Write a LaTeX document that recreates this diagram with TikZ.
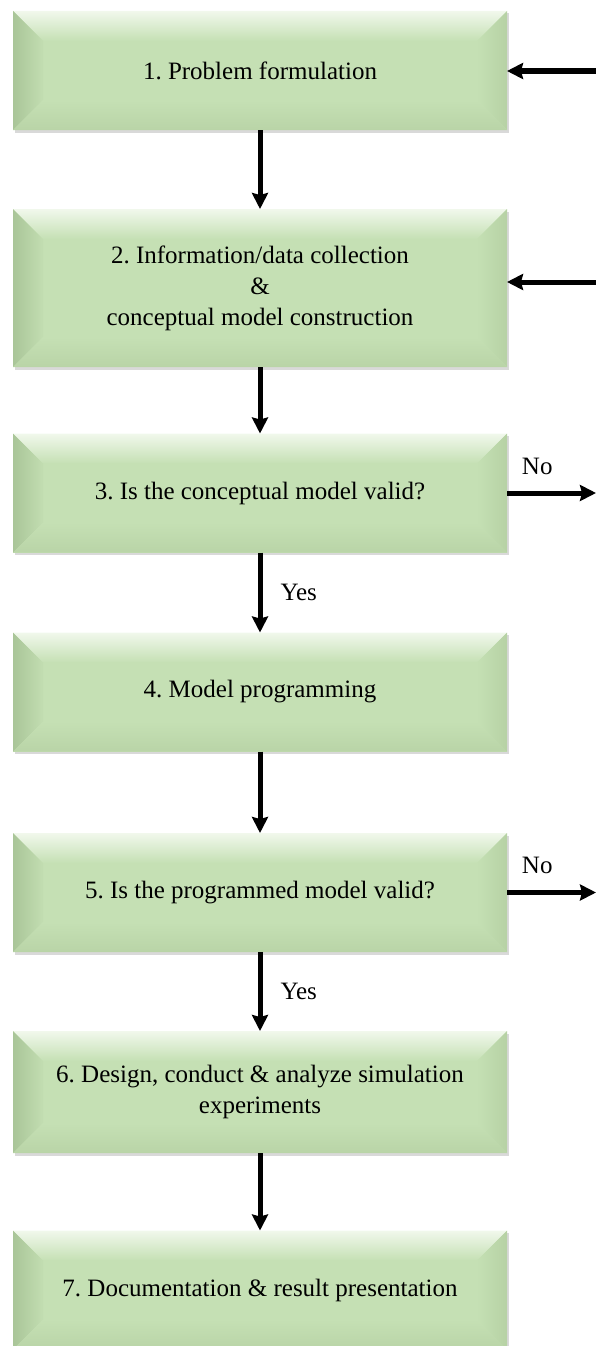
\documentclass[tikz,border=0pt]{standalone}
\usepackage{fontspec}
\setmainfont{Liberation Serif}
\usetikzlibrary{arrows.meta,shadows}
\frenchspacing

\definecolor{boxgreen}{HTML}{C5E0B4}
\definecolor{facettop}{HTML}{F1F8EC}
\definecolor{facetleft}{HTML}{A9C598}
\definecolor{facetright}{HTML}{B6D1A4}
\definecolor{facetbottom}{HTML}{B9D4A7}

\begin{document}
\begin{tikzpicture}[x=1pt, y=1pt, >={Stealth[length=16pt, width=16pt, inset=2pt]}]

  % Styles
  \tikzset{
    bevel/.style={rectangle, inner sep=0pt, outer sep=0pt,
      minimum width=494pt, minimum height=119pt, align=center,
      font=\fontsize{25}{31}\selectfont, fill=boxgreen,
      drop shadow={shadow xshift=1.5pt, shadow yshift=-2.5pt, opacity=0.25, fill=black!60},
      path picture={
        \coordinate (bl) at (path picture bounding box.south west);
        \coordinate (br) at (path picture bounding box.south east);
        \coordinate (tl) at (path picture bounding box.north west);
        \coordinate (tr) at (path picture bounding box.north east);
        % bevel faces
        \shade[top color=facettop, bottom color=boxgreen]
          (tl) -- (tr) -- ([shift={(-30,-30)}]tr) -- ([shift={(30,-30)}]tl) -- cycle;
        \shade[left color=facetleft, right color=boxgreen!90!facetleft]
          (tl) -- ([shift={(30,-30)}]tl) -- ([shift={(30,30)}]bl) -- (bl) -- cycle;
        \shade[left color=boxgreen, right color=facetright]
          (tr) -- ([shift={(-30,-30)}]tr) -- ([shift={(-30,30)}]br) -- (br) -- cycle;
        \shade[top color=boxgreen, bottom color=facetbottom]
          (bl) -- ([shift={(30,30)}]bl) -- ([shift={(-30,30)}]br) -- (br) -- cycle;
      }},
    flow/.style={->, line width=5pt},
    answer/.style={font=\fontsize{25}{31}\selectfont, inner sep=2pt}
  }

  \clip (0,0) rectangle (596,-1346);

  % Steps
  \node[bevel] (s1) at (260,-70.5) {1. Problem formulation};
  \node[bevel, minimum height=158pt] (s2) at (260,-288) {2. Information/data collection\\\&\\conceptual model construction};
  \node[bevel] (s3) at (260,-493) {3. Is the conceptual model valid?};
  \node[bevel] (s4) at (260,-692) {4. Model programming};
  \node[bevel] (s5) at (260,-892.5) {5. Is the programmed model valid?};
  \node[bevel, minimum height=122pt] (s6) at (260,-1092) {6. Design, conduct \& analyze simulation\\experiments};
  \node[bevel] (s7) at (260,-1290) {7. Documentation \& result presentation};

  % Loose ends at the right margin
  \coordinate (back1) at (596,-71);
  \coordinate (back2) at (596,-282);
  \coordinate (no1) at (596,-493);
  \coordinate (no2) at (596,-892.5);

  % Main flow
  \draw[flow] (s1) -- (s2);
  \draw[flow] (s2) -- (s3);
  \draw[flow] (s3) -- node[answer, right=16pt] {Yes} (s4);
  \draw[flow] (s4) -- (s5);
  \draw[flow] (s5) -- node[answer, right=16pt] {Yes} (s6);
  \draw[flow] (s6) -- (s7);

  % Returns and exits
  \draw[flow] (back1) -- (s1.east |- back1);
  \draw[flow] (back2) -- (s2.east |- back2);
  \draw[flow] (s3.east) -- node[answer, above=14pt, pos=0.34] {No} (no1);
  \draw[flow] (s5.east) -- node[answer, above=14pt, pos=0.34] {No} (no2);

\end{tikzpicture}
\end{document}
